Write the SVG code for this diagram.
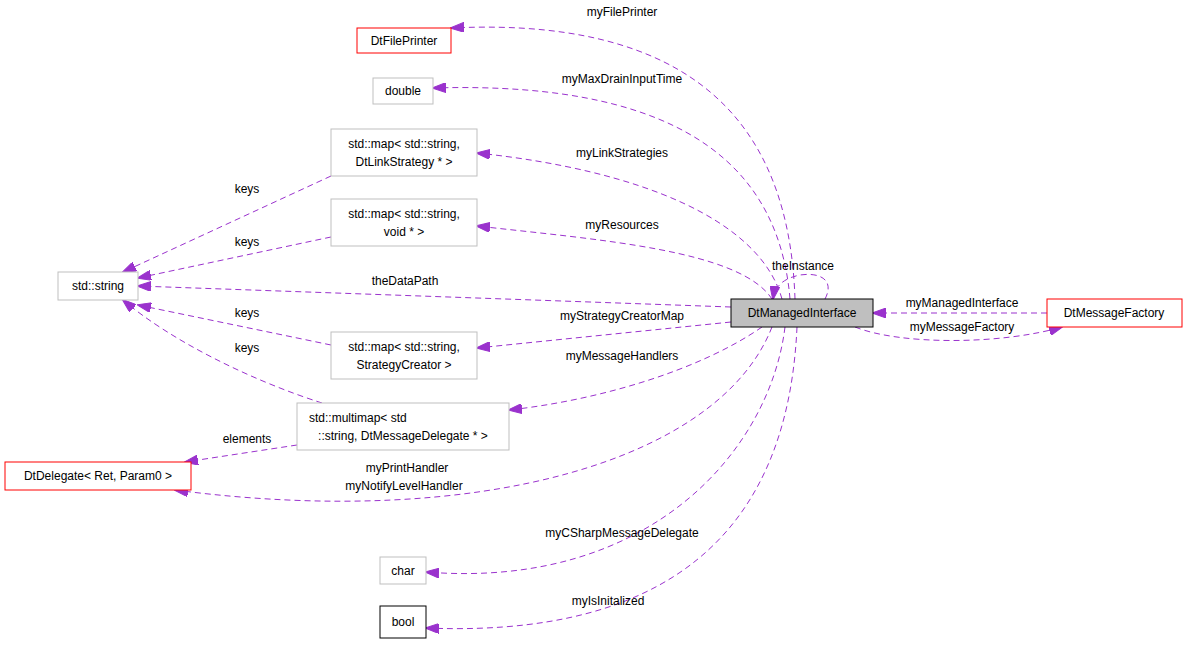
<svg xmlns="http://www.w3.org/2000/svg" width="1187" height="656" viewBox="0 0 1187 656">
<style>
.n{fill:#fff;stroke:#bfbfbf;stroke-width:1}
.r{fill:#fff;stroke:#ff0000;stroke-width:1}
.k{fill:#fff;stroke:#000;stroke-width:1}
text{font-family:"Liberation Sans",Arial,sans-serif;font-size:12px;fill:#000}
.c{text-anchor:middle}
.e{fill:none;stroke:#9a32cd;stroke-width:1;stroke-dasharray:6,4;marker-end:url(#a)}
</style>
<defs><marker id="a" markerWidth="14" markerHeight="10" refX="13" refY="5" orient="auto" markerUnits="userSpaceOnUse"><path d="M0,0 L14,5 L0,10 Z" fill="#9a32cd" stroke="#9a32cd"/></marker></defs>
<rect width="1187" height="656" fill="#fff"/>
<g id="edges">
<path class="e" d="M795,299 C790,150 720,15 451,28"/>
<path class="e" d="M790,299 C780,180 700,80 433,88"/>
<path class="e" d="M782,299 C760,220 640,170 477,153"/>
<path class="e" d="M772,299 C740,250 600,240 477,226"/>
<path class="e" d="M731,307 L138,286"/>
<path class="e" d="M731,322 L477,348"/>
<path class="e" d="M762,327 C700,370 600,400 509,410"/>
<path class="e" d="M772,327 C720,460 480,530 175,490"/>
<path class="e" d="M785,327 C770,450 650,590 426,572"/>
<path class="e" d="M797,327 C790,480 720,640 426,628"/>
<path class="e" d="M825,299 C835,280 820,272 800,275 C785,278 775,285 773,299"/>
<path class="e" d="M1047,313 L873,313"/>
<path class="e" d="M855,327 C900,345 1000,345 1062,327"/>
<path class="e" d="M331,176 L123,272"/>
<path class="e" d="M331,237 L138,278"/>
<path class="e" d="M331,345 L138,305"/>
<path class="e" d="M322,403 C250,380 170,340 123,300"/>
<path class="e" d="M297,445 L185,462"/>
<text class="c" x="622" y="16">myFilePrinter</text>
<text class="c" x="622" y="83">myMaxDrainInputTime</text>
<text class="c" x="622" y="157">myLinkStrategies</text>
<text class="c" x="622" y="229">myResources</text>
<text class="c" x="405" y="285">theDataPath</text>
<text class="c" x="622" y="320">myStrategyCreatorMap</text>
<text class="c" x="622" y="360">myMessageHandlers</text>
<text class="c" x="407" y="472">myPrintHandler</text>
<text class="c" x="404" y="490">myNotifyLevelHandler</text>
<text class="c" x="622" y="537">myCSharpMessageDelegate</text>
<text class="c" x="608" y="605">myIsInitalized</text>
<text class="c" x="803" y="270">theInstance</text>
<text class="c" x="962" y="307">myManagedInterface</text>
<text class="c" x="962" y="331">myMessageFactory</text>
<text class="c" x="247" y="193">keys</text>
<text class="c" x="247" y="246">keys</text>
<text class="c" x="247" y="317">keys</text>
<text class="c" x="247" y="352">keys</text>
<text class="c" x="247" y="443">elements</text>
</g>
<g id="DtManagedInterface"><rect x="731" y="299" width="142" height="28" fill="#bfbfbf" stroke="#000"/><text class="c" x="802" y="317">DtManagedInterface</text></g>
<g id="DtFilePrinter"><rect class="r" x="357" y="28" width="94" height="25"/><text class="c" x="404" y="45">DtFilePrinter</text></g>
<g id="double"><rect class="n" x="373" y="78" width="60" height="26"/><text class="c" x="403" y="95">double</text></g>
<g id="mapLink"><rect class="n" x="331" y="129" width="146" height="47"/><text class="c" x="404" y="148">std::map&lt; std::string,</text><text class="c" x="404" y="166">DtLinkStrategy * &gt;</text></g>
<g id="mapVoid"><rect class="n" x="331" y="199" width="146" height="47"/><text class="c" x="404" y="218">std::map&lt; std::string,</text><text class="c" x="404" y="236">void * &gt;</text></g>
<g id="stdstring"><rect class="n" x="58" y="272" width="80" height="28"/><text class="c" x="98" y="290">std::string</text></g>
<g id="DtMessageFactory"><rect class="r" x="1047" y="299" width="135" height="28"/><text class="c" x="1114" y="317">DtMessageFactory</text></g>
<g id="mapStrategy"><rect class="n" x="331" y="332" width="146" height="47"/><text class="c" x="404" y="351">std::map&lt; std::string,</text><text class="c" x="404" y="369">StrategyCreator &gt;</text></g>
<g id="multimap"><rect class="n" x="297" y="403" width="212" height="47"/><text x="309" y="422">std::multimap&lt; std</text><text class="c" x="403" y="440">::string, DtMessageDelegate * &gt;</text></g>
<g id="DtDelegate"><rect class="r" x="5" y="462" width="186" height="28"/><text class="c" x="98" y="480">DtDelegate&lt; Ret, Param0 &gt;</text></g>
<g id="char"><rect class="n" x="380" y="557" width="46" height="27"/><text class="c" x="403" y="575">char</text></g>
<g id="bool"><rect class="k" x="380" y="606" width="46" height="32"/><text class="c" x="403" y="626">bool</text></g>
</svg>
